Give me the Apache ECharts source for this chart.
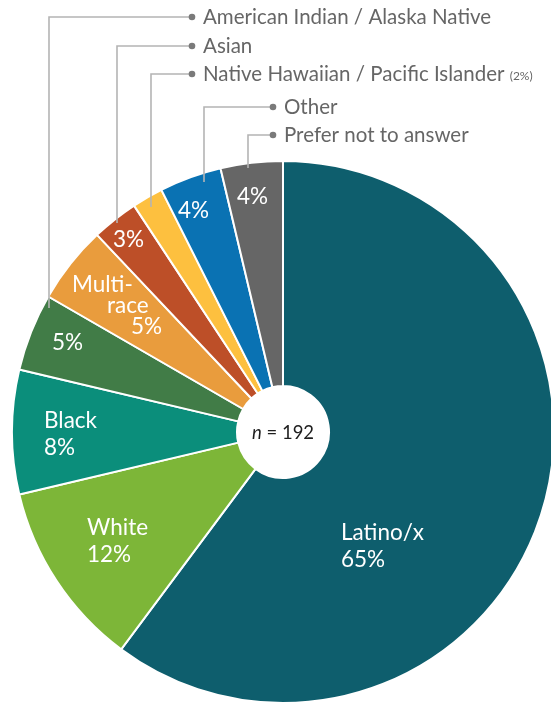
<!DOCTYPE html>
<html>
<head>
<meta charset="utf-8">
<script src="https://cdn.jsdelivr.net/npm/echarts@6/dist/echarts.min.js"></script>
<style>
  html, body { margin: 0; padding: 0; background: #ffffff; }
  #chart { width: 551px; height: 704px; }
</style>
</head>
<body>
<div id="chart"></div>
<script>
// Survey respondents by race / ethnicity (percent of respondents, n = 192)
const categories = [
  'Latino/x', 'White', 'Black', 'American Indian / Alaska Native', 'Multi-race',
  'Asian', 'Native Hawaiian / Pacific Islander', 'Other', 'Prefer not to answer'
];
const percents = [65, 12, 8, 5, 5, 3, 2, 4, 4];
const sampleSize = 192;

// Text shown inside each slice above its percent (null = percent only, '' = no label)
const insideNames = ['Latino/x', 'White', 'Black', null, 'Multi-\nrace', null, '', null, null];

const colors = ['#0e5e6d', '#7db638', '#0b8e7b', '#417c47', '#e99c3d', '#bd4f28', '#fdc03f', '#0a72b3', '#666666'];

// Label anchors inside slices: left edge x, vertical centre y
const labelPos = {
  0: [341, 546], 1: [87, 541], 2: [44, 434], 3: [52, 343], 4: [72, 306],
  5: [113, 240], 7: [178, 211], 8: [237, 197]
};

// Callouts for the thin slices: category index, leader x, top y, bottom y, dot x
const callouts = [
  { idx: 3, x: 49, top: 17, bottom: 308, dot: 192 },
  { idx: 5, x: 117, top: 46, bottom: 223, dot: 192 },
  { idx: 6, x: 151, top: 74, bottom: 207, dot: 192, note: '(2%)' },
  { idx: 7, x: 204, top: 107, bottom: 182, dot: 273 },
  { idx: 8, x: 248, top: 135, bottom: 168, dot: 273 }
];

const FONT = 'Lato, "Noto Sans", sans-serif';
const INSIDE_SIZE = 22.5;

const chart = echarts.init(document.getElementById('chart'), null, { renderer: 'canvas' });

const data = categories.map((name, i) => {
  const extra = insideNames[i];
  const item = {
    name,
    value: percents[i],
    itemStyle: { color: colors[i] }
  };
  if (extra === '') {
    item.label = { show: false };
  } else if (i === 4) {
    const parts = extra.split('\n');
    item.label = {
      formatter: '{m0|' + parts[0] + '}\n{m1|' + parts[1] + '}\n{m2|' + percents[i] + '%}',
      lineHeight: 21
    };
  } else if (extra) {
    item.label = { formatter: extra + '\n' + percents[i] + '%' };
  } else {
    item.label = { formatter: percents[i] + '%' };
  }
  return item;
});

const graphics = [];
callouts.forEach(c => {
  graphics.push({
    type: 'polyline', z: 100, silent: true,
    shape: { points: [[c.x, c.bottom], [c.x, c.top], [c.dot, c.top]] },
    style: { stroke: '#b4b4b4', lineWidth: 1.6, fill: null }
  });
  graphics.push({
    type: 'circle', z: 101, silent: true,
    shape: { cx: c.dot, cy: c.top, r: 3.3 },
    style: { fill: '#7a7a7a' }
  });
  graphics.push({
    type: 'text', z: 101, silent: true,
    x: c.dot + 11, y: c.top,
    style: {
      text: categories[c.idx] + (c.note ? ' {s|' + c.note + '}' : ''),
      font: '20.5px ' + FONT,
      fill: '#666666',
      verticalAlign: 'middle',
      align: 'left',
      rich: { s: { fontSize: 12, fontFamily: FONT, fill: '#666666', padding: [4, 0, 0, 0] } }
    }
  });
});
graphics.push({
  type: 'text', z: 101, silent: true,
  x: 283, y: 433,
  style: {
    text: '{i|n} = ' + sampleSize,
    font: '18.5px ' + FONT,
    fill: '#1e1e1e',
    align: 'center',
    verticalAlign: 'middle',
    rich: { i: { fontStyle: 'italic', fontSize: 18.5, fontFamily: FONT, fill: '#1e1e1e' } }
  }
});

chart.setOption({
  animation: false,
  backgroundColor: '#ffffff',
  graphic: graphics,
  series: [{
    type: 'pie',
    center: [283, 432],
    radius: [46, 271],
    startAngle: 90,
    clockwise: true,
    avoidLabelOverlap: false,
    itemStyle: { borderColor: '#ffffff', borderWidth: 2 },
    label: {
      show: true,
      position: 'inside',
      color: '#ffffff',
      fontFamily: FONT,
      fontSize: INSIDE_SIZE,
      lineHeight: 27,
      align: 'left',
      rich: {
        m0: { color: '#ffffff', fontFamily: FONT, fontSize: INSIDE_SIZE, lineHeight: 21 },
        m1: { color: '#ffffff', fontFamily: FONT, fontSize: INSIDE_SIZE, lineHeight: 21, padding: [0, 0, 0, 35] },
        m2: { color: '#ffffff', fontFamily: FONT, fontSize: INSIDE_SIZE, lineHeight: 21, padding: [0, 0, 0, 59] }
      }
    },
    labelLine: { show: false },
    labelLayout: function (params) {
      const p = labelPos[params.dataIndex];
      if (!p) return {};
      return { x: p[0], y: p[1], align: 'left', verticalAlign: 'middle' };
    },
    data: data
  }]
});
</script>
</body>
</html>
